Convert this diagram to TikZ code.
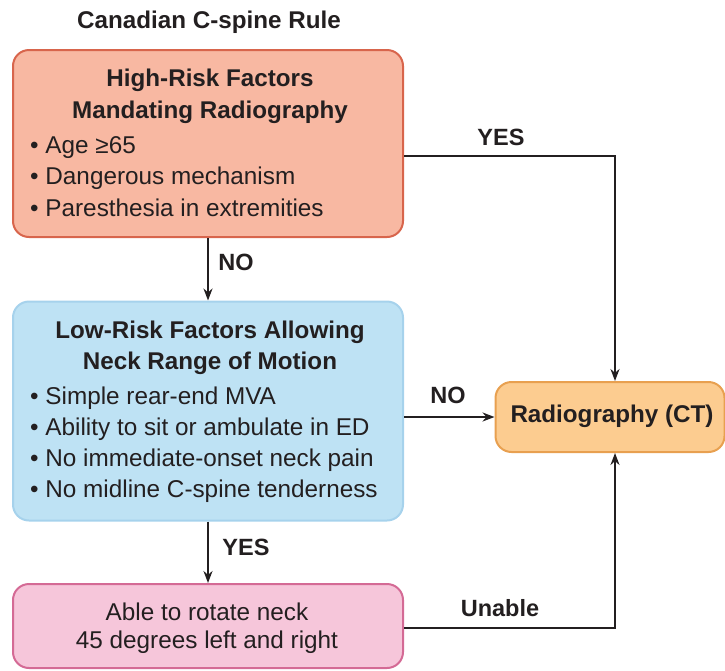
\documentclass[tikz,border=0pt]{standalone}
\usepackage{fontspec}
\setmainfont{Liberation Sans}
\usetikzlibrary{arrows.meta}
\definecolor{redfill}{HTML}{F8B8A2}
\definecolor{redline}{HTML}{D8654C}
\definecolor{bluefill}{HTML}{BEE2F4}
\definecolor{blueline}{HTML}{A6D2EC}
\definecolor{pinkfill}{HTML}{F6C6DA}
\definecolor{pinkline}{HTML}{D46A95}
\definecolor{orfill}{HTML}{FCCC90}
\definecolor{orline}{HTML}{E8A050}
\definecolor{ink}{HTML}{231F20}
\begin{document}
\begin{tikzpicture}[x=1pt,y=-1pt,
  box/.style={rectangle, rounded corners=16pt, line width=2pt, minimum width=390pt, inner sep=0pt},
  hd/.style={font=\fontsize{24.2}{28}\selectfont\bfseries, text=ink, inner sep=0pt},
  bl/.style={font=\fontsize{24.3}{28}\selectfont, text=ink, anchor=west, inner sep=0pt},
  tx/.style={font=\fontsize{24.3}{28}\selectfont, text=ink, inner sep=0pt},
  lb/.style={font=\fontsize{23.5}{26}\selectfont\bfseries, text=ink, inner sep=0pt},
  arr/.style={line width=2.8pt, draw=ink, -{Stealth[length=12pt,width=9pt]}}]
\useasboundingbox (0,0) rectangle (725,670);
% boxes
\node[box, fill=redfill, draw=redline, minimum height=187pt] (hr) at (208,143.5) {};
\node[box, fill=bluefill, draw=blueline, minimum height=219pt] (lr) at (208,411) {};
\node[box, fill=pinkfill, draw=pinkline, minimum height=84pt] (ab) at (208,626) {};
\node[box, fill=orfill, draw=orline, minimum width=229pt, minimum height=70pt] (rad) at (610,417) {};
% title
\node[hd] (title) at (209,22) {Canadian C-spine Rule};
% high-risk text
\node[hd] (h1) at (210,80) {High-Risk Factors};
\node[hd] (h2) at (210,112) {Mandating Radiography};
\node[bl] (h3) at (30,148) {• Age ≥65};
\node[bl] (h4) at (30,178) {• Dangerous mechanism};
\node[bl] (h5) at (30,208) {• Paresthesia in extremities};
% low-risk text
\node[hd] (l1) at (210,332) {Low-Risk Factors Allowing};
\node[hd] (l2) at (210,363) {Neck Range of Motion};
\node[bl] (l3) at (30,398) {• Simple rear-end MVA};
\node[bl] (l4) at (30,429) {• Ability to sit or ambulate in ED};
\node[bl] (l5) at (30,460) {• No immediate-onset neck pain};
\node[bl] (l6) at (30,491) {• No midline C-spine tenderness};
% rotate text
\node[tx] (a1) at (207,612) {Able to rotate neck};
\node[tx] (a2) at (207,642) {45 degrees left and right};
% radiography text
\node[hd] (r1) at (612,416) {Radiography (CT)};
% connectors
\coordinate (c1) at (615,156);
\coordinate (c2) at (615,628);
\draw[arr] (hr.south) -- (lr.north);
\draw[arr] (lr.south) -- (ab.north);
\draw[arr] (lr.east |- rad.west) -- (rad.west);
\draw[arr] (hr.east |- c1) -- (c1) -- (c1 |- rad.north);
\draw[arr] (ab.east |- c2) -- (c2) -- (c2 |- rad.south);
% labels
\node[lb] (yes1) at (501,137) {YES};
\node[lb] (no1) at (236,262) {NO};
\node[lb] (no2) at (448,395) {NO};
\node[lb] (yes2) at (246,547) {YES};
\node[lb] (un) at (500,608) {Unable};
\end{tikzpicture}
\end{document}
